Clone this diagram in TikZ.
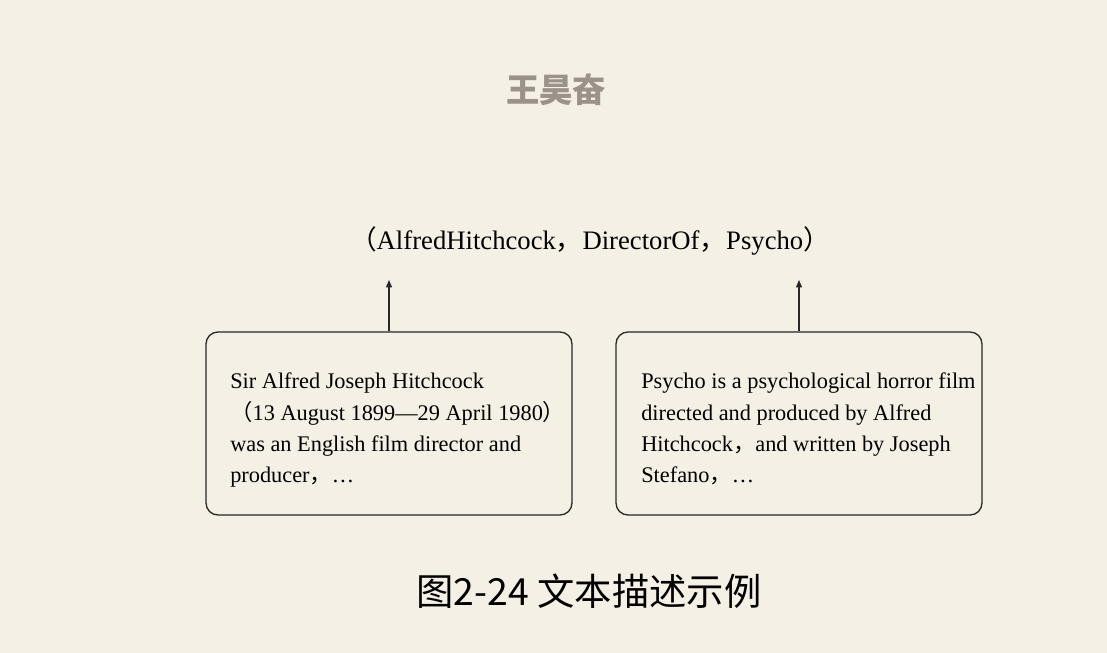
\documentclass[tikz,border=0pt]{standalone}
\usepackage{fontspec}
\setmainfont{Liberation Serif}
\newfontfamily\cjk{Noto Sans CJK SC}
\usetikzlibrary{arrows.meta}
\definecolor{bg}{RGB}{244,240,229}
\definecolor{titlegray}{RGB}{155,146,137}
\definecolor{linecol}{RGB}{40,40,40}
\begin{document}
\begin{tikzpicture}[x=0.75pt,y=-0.75pt,
  box/.style={draw=linecol, line width=1pt, rounded corners=9pt,
    minimum width=274.5pt, minimum height=137.25pt, inner sep=0pt},
  boxtext/.style={anchor=north west, inner sep=0pt, align=left,
    font=\fontsize{16.75pt}{23.5pt}\selectfont},
  arr/.style={draw=linecol, line width=0.8pt, -{Triangle[length=5.5pt,width=4.5pt]}}]
\fill[bg] (0,0) rectangle (1107,653);
\useasboundingbox (0,0) rectangle (1107,653);

\node[font=\cjk\bfseries\fontsize{25pt}{30pt}\selectfont, text=titlegray] (title) at (556,90) {王昊奋};

\node[font=\fontsize{20pt}{24pt}\selectfont, anchor=base, inner sep=0pt] (tri) at (590,249)
  {{\cjk （}AlfredHitchcock{\cjk ，}DirectorOf{\cjk ，}Psycho{\cjk ）}};

\node[box] (lb) at (389,423.5) {};
\node[box] (rb) at (799,423.5) {};

\node[boxtext] (lt) at (230,373) {Sir Alfred Joseph Hitchcock\\{\cjk （}13 August 1899—29 April 1980{\cjk ）}\\was an English film director and\\producer{\cjk ，}…};
\node[boxtext] (rt) at (641,373) {Psycho is a psychological horror film\\directed and produced by Alfred\\Hitchcock{\cjk ，}and written by Joseph\\Stefano{\cjk ，}…};

\coordinate (arrtop) at (0,280);
\draw[arr] (lb.north) -- (lb.north |- arrtop);
\draw[arr] (rb.north) -- (rb.north |- arrtop);

\node[font=\cjk\fontsize{28pt}{32pt}\selectfont] (cap) at (589,591) {图2-24 文本描述示例};
\end{tikzpicture}
\end{document}
